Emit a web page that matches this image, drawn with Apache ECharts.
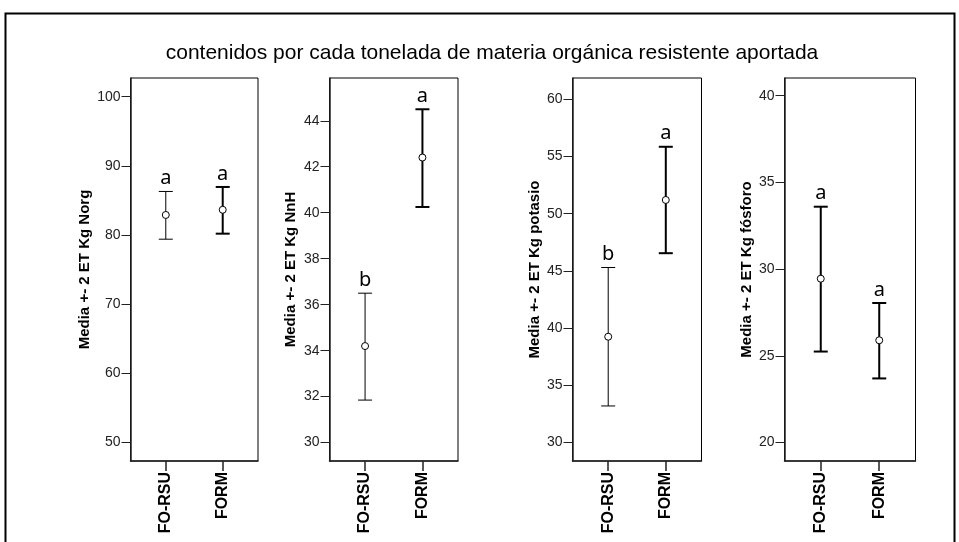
<!DOCTYPE html>
<html>
<head>
<meta charset="utf-8">
<script src="https://cdn.jsdelivr.net/npm/echarts@6/dist/echarts.min.js"></script>
<style>
  html, body { margin: 0; padding: 0; background: #fff; }
  #main { width: 959px; height: 542px; }
</style>
</head>
<body>
<div id="main"></div>
<script>
// datos
var categories = ['FO-RSU', 'FORM'];

var norgMean = [82.9, 83.65];
var norgLow  = [79.4, 80.2];
var norgHigh = [86.3, 86.95];
var norgLetters = ['a', 'a'];
var norgTicks = [50, 60, 70, 80, 90, 100];

var nnhMean = [34.2, 42.4];
var nnhLow  = [31.85, 40.25];
var nnhHigh = [36.5, 44.5];
var nnhLetters = ['b', 'a'];
var nnhTicks = [30, 32, 34, 36, 38, 40, 42, 44];

var potMean = [39.25, 51.2];
var potLow  = [33.2, 46.55];
var potHigh = [45.3, 55.85];
var potLetters = ['b', 'a'];
var potTicks = [30, 35, 40, 45, 50, 55, 60];

var fosMean = [29.45, 25.9];
var fosLow  = [25.25, 23.7];
var fosHigh = [33.6, 28.05];
var fosLetters = ['a', 'a'];
var fosTicks = [20, 25, 30, 35, 40];

var myChart = echarts.init(document.getElementById('main'));

var panels = [
    {name: 'Media +- 2 ET Kg Norg',    mean: norgMean, low: norgLow, high: norgHigh, letters: norgLetters, ticks: norgTicks,
     left: 130.5, width: 127.5, min: 47.34, max: 102.7, gap: 38, widths: [1, 2]},
    {name: 'Media +- 2 ET Kg NnH',     mean: nnhMean, low: nnhLow, high: nnhHigh, letters: nnhLetters, ticks: nnhTicks,
     left: 329.5, width: 128.5, min: 29.2, max: 45.86, gap: 31, widths: [1, 2]},
    {name: 'Media +- 2 ET Kg potasio', mean: potMean, low: potLow, high: potHigh, letters: potLetters, ticks: potTicks,
     left: 572.5, width: 129, min: 28.39, max: 61.86, gap: 30, widths: [1, 2]},
    {name: 'Media +- 2 ET Kg fósforo', mean: fosMean, low: fosLow, high: fosHigh, letters: fosLetters, ticks: fosTicks,
     left: 784.5, width: 131, min: 18.94, max: 41.02, gap: 30, widths: [2, 2]}
];

var grids = [], xAxes = [], yAxes = [], series = [];

panels.forEach(function (p, i) {
    grids.push({
        left: p.left, top: 78, width: p.width, height: 383,
        show: true, borderColor: '#000', borderWidth: 1, backgroundColor: '#fff'
    });
    xAxes.push({
        type: 'value', gridIndex: i, min: 0.38, max: 2.62,
        splitLine: {show: false},
        axisLine: {lineStyle: {color: '#222', width: 1.5}},
        axisTick: {show: true, customValues: [1, 2], length: 10, inside: false, lineStyle: {color: '#222', width: 1.5}},
        axisLabel: {
            customValues: [1, 2], rotate: 90, margin: 11,
            fontFamily: 'Liberation Sans', fontWeight: 'bold', fontSize: 16, color: '#000',
            formatter: function (v) { return categories[Math.round(v) - 1]; }
        }
    });
    yAxes.push({
        type: 'value', gridIndex: i, min: p.min, max: p.max,
        name: p.name, nameLocation: 'middle', nameGap: p.gap,
        nameTextStyle: {fontFamily: 'Liberation Sans', fontWeight: 'bold', fontSize: 15, color: '#000'},
        splitLine: {show: false},
        axisLine: {show: true, lineStyle: {color: '#222', width: 1.5}},
        axisTick: {show: true, customValues: p.ticks, length: 9, lineStyle: {color: '#222'}},
        axisLabel: {customValues: p.ticks, margin: 10, fontFamily: 'Liberation Sans', fontSize: 14, color: '#222'}
    });
    var data = p.mean.map(function (m, k) {
        return [k + 1, p.low[k], p.high[k], m, p.letters[k], p.widths[k]];
    });
    series.push({
        type: 'custom',
        xAxisIndex: i, yAxisIndex: i,
        clip: false,
        data: data,
        renderItem: function (params, api) {
            var x = api.value(0);
            var lo = api.coord([x, api.value(1)]);
            var hi = api.coord([x, api.value(2)]);
            var mid = api.coord([x, api.value(3)]);
            var lw = api.value(5);
            var st = {stroke: '#000', lineWidth: lw, fill: null};
            var cap = 7;
            return {
                type: 'group',
                children: [
                    {type: 'line', shape: {x1: hi[0], y1: hi[1], x2: lo[0], y2: lo[1]}, style: st},
                    {type: 'line', shape: {x1: hi[0] - cap, y1: hi[1], x2: hi[0] + cap, y2: hi[1]}, style: st},
                    {type: 'line', shape: {x1: lo[0] - cap, y1: lo[1], x2: lo[0] + cap, y2: lo[1]}, style: st},
                    {type: 'circle', shape: {cx: mid[0], cy: mid[1], r: 3.5}, style: {stroke: '#000', lineWidth: 1, fill: '#fff'}},
                    {type: 'text', x: hi[0], y: hi[1] - 3,
                     style: {text: api.value(4), align: 'center', verticalAlign: 'bottom',
                             font: '20px "Noto Sans"', fill: '#000'}}
                ]
            };
        }
    });
});

var option = {
    animation: false,
    backgroundColor: '#fff',
    grid: grids,
    xAxis: xAxes,
    yAxis: yAxes,
    series: series,
    graphic: [
        {type: 'rect', shape: {x: 5.5, y: 13.5, width: 949, height: 560},
         style: {fill: null, stroke: '#000', lineWidth: 2}, z: 100},
        {type: 'text', x: 492, y: 53,
         style: {text: 'contenidos por cada tonelada de materia orgánica resistente aportada',
                 align: 'center', verticalAlign: 'middle', font: '21px "Liberation Sans"', fill: '#000'}}
    ]
};
myChart.setOption(option);
</script>
</body>
</html>
